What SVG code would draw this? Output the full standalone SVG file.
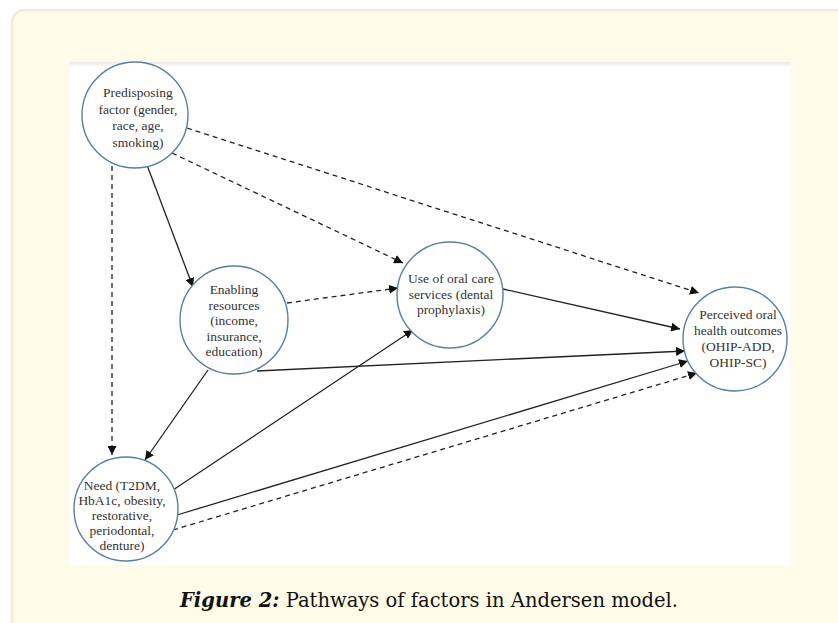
<svg xmlns="http://www.w3.org/2000/svg" width="838" height="623" viewBox="0 0 838 623">
<defs>
<marker id="ah" viewBox="0 0 10 10" refX="10" refY="5" markerWidth="9" markerHeight="9" markerUnits="userSpaceOnUse" orient="auto">
<path d="M0,0 L10,5 L0,10 z" fill="#111"/>
</marker>
<linearGradient id="sh" x1="0" y1="0" x2="0" y2="1">
<stop offset="0" stop-color="#e8e8e8"/>
<stop offset="1" stop-color="#ffffff"/>
</linearGradient>
</defs>
<style>
.node circle{fill:#fff;stroke:#5b7f9e;stroke-width:1.4}
.node text{font-family:"Liberation Serif",serif;font-size:13.5px;fill:#333;text-anchor:middle}
.solid{stroke:#222;stroke-width:1.3;fill:none;marker-end:url(#ah)}
.dash{stroke:#222;stroke-width:1.3;fill:none;stroke-dasharray:5,4;marker-end:url(#ah)}
.cap{font-family:"DejaVu Serif",serif;font-size:19.5px;fill:#111}
</style>
<rect x="0" y="0" width="838" height="623" fill="#ffffff"/>
<rect x="12" y="10" width="860" height="640" rx="12" fill="#fffbe8" stroke="#f0ecdd" stroke-width="2.5"/>
<rect x="69" y="62" width="722" height="503" fill="#ffffff"/>
<rect x="69" y="62" width="722" height="5" fill="url(#sh)"/>
<g id="connectors">
<line class="dash" x1="112" y1="166" x2="112" y2="455"/>
<line class="solid" x1="147" y1="165" x2="193" y2="287"/>
<line class="dash" x1="172" y1="153" x2="403" y2="263"/>
<line class="dash" x1="187" y1="128" x2="699" y2="293"/>
<line class="dash" x1="287" y1="303" x2="398" y2="288"/>
<line class="solid" x1="208" y1="370" x2="145" y2="460"/>
<line class="solid" x1="257" y1="371" x2="685" y2="351"/>
<line class="solid" x1="503" y1="289" x2="680" y2="329"/>
<line class="solid" x1="173" y1="490" x2="413" y2="330"/>
<line class="solid" x1="177" y1="515" x2="688" y2="361"/>
<line class="dash" x1="173" y1="530" x2="697" y2="373"/>
</g>
<g id="predisposing" class="node">
<circle cx="135" cy="115" r="53"/>
<text x="138" y="97">Predisposing</text>
<text x="138" y="113.5">factor (gender,</text>
<text x="138" y="130">race, age,</text>
<text x="138" y="146.5">smoking)</text>
</g>
<g id="enabling" class="node">
<circle cx="234" cy="320" r="54"/>
<text x="234" y="294">Enabling</text>
<text x="234" y="309.5">resources</text>
<text x="234" y="325">(income,</text>
<text x="234" y="340.5">insurance,</text>
<text x="234" y="356">education)</text>
</g>
<g id="use" class="node">
<circle cx="450" cy="295" r="53"/>
<text x="451" y="283">Use of oral care</text>
<text x="451" y="298.5">services (dental</text>
<text x="451" y="314">prophylaxis)</text>
</g>
<g id="perceived" class="node">
<circle cx="735" cy="339" r="52"/>
<text x="738" y="319">Perceived oral</text>
<text x="738" y="335">health outcomes</text>
<text x="738" y="351">(OHIP-ADD,</text>
<text x="738" y="367">OHIP-SC)</text>
</g>
<g id="need" class="node">
<circle cx="126" cy="509" r="52"/>
<text x="122" y="490">Need (T2DM,</text>
<text x="122" y="505">HbA1c, obesity,</text>
<text x="122" y="519.5">restorative,</text>
<text x="122" y="534.5">periodontal,</text>
<text x="122" y="549.5">denture)</text>
</g>
<text class="cap" x="180" y="607" textLength="498" lengthAdjust="spacingAndGlyphs"><tspan font-weight="bold" font-style="italic">Figure 2:</tspan> Pathways of factors in Andersen model.</text>
</svg>
